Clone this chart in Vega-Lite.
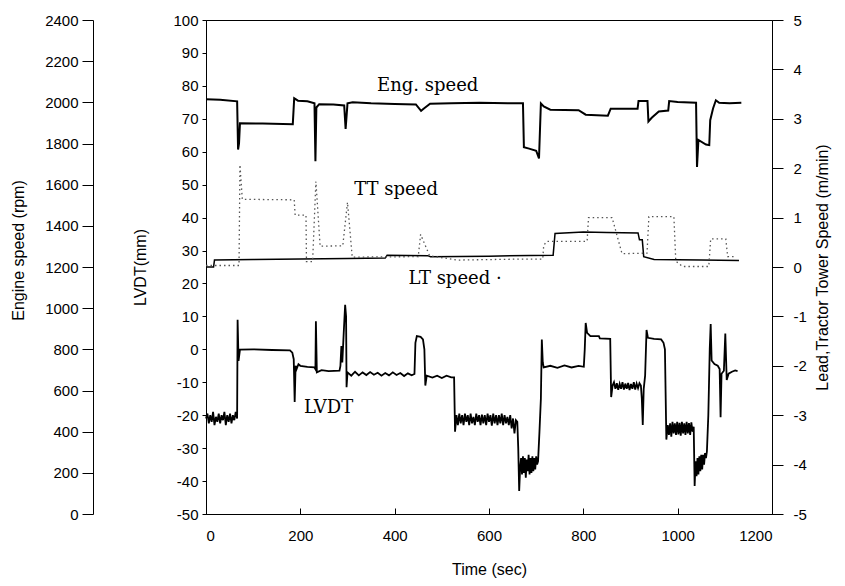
{
  "$schema": "https://vega.github.io/schema/vega-lite/v6.json",
  "width": 566,
  "height": 494,
  "autosize": "none",
  "padding": {"left": 206, "top": 20, "right": 73, "bottom": 72},
  "background": "white",
  "config": {
    "font": "Liberation Sans",
    "view": {"stroke": "black", "strokeWidth": 1},
    "axis": {
      "labelFont": "Liberation Sans", "labelFontSize": 15, "labelColor": "black",
      "titleFont": "Liberation Sans", "titleFontSize": 16, "titleFontWeight": "normal", "titleColor": "black",
      "domainColor": "black", "tickColor": "black", "grid": false,
      "labelExpr": "'' + datum.value"
    }
  },
  "datasets": {
    "lvdt": [
      {"t":0,"v":-21},{"t":3,"v":-19.5},{"t":6,"v":-22.5},{"t":9,"v":-20},{"t":12,"v":-22},{"t":15,"v":-19},{"t":18,"v":-23},{"t":21,"v":-20.5},{"t":24,"v":-22},{"t":27,"v":-19.5},{"t":30,"v":-22.5},{"t":33,"v":-20},{"t":36,"v":-21.5},{"t":39,"v":-19},{"t":42,"v":-23},{"t":45,"v":-20},{"t":48,"v":-22},{"t":51,"v":-19.5},{"t":54,"v":-22.5},{"t":57,"v":-20},{"t":60,"v":-21.5},{"t":63,"v":-19},{"t":66,"v":-21},
      {"t":67,"v":9},{"t":69,"v":-3.5},{"t":72,"v":-0.1},{"t":100,"v":0},{"t":140,"v":-0.2},{"t":178,"v":-0.3},{"t":183,"v":-1},{"t":186,"v":-3},{"t":188,"v":-16},{"t":190,"v":-5},{"t":192,"v":-6},{"t":196,"v":-4.5},{"t":200,"v":-5},{"t":215,"v":-5.3},{"t":230,"v":-5.5},{"t":232,"v":-6},{"t":233,"v":8.5},{"t":235,"v":-7},{"t":245,"v":-6.3},{"t":260,"v":-6.6},{"t":283,"v":-6.5},{"t":285,"v":-5},{"t":287,"v":1},{"t":289,"v":-4},{"t":292,"v":5},{"t":295,"v":13.5},{"t":297,"v":10},{"t":298,"v":-11.5},{"t":300,"v":-7},
      {"t":308,"v":-8},{"t":316,"v":-6.8},{"t":324,"v":-7.9},{"t":332,"v":-7},{"t":340,"v":-7.8},{"t":348,"v":-6.9},{"t":356,"v":-7.7},{"t":364,"v":-7.1},{"t":372,"v":-8},{"t":380,"v":-7.2},{"t":388,"v":-7.9},{"t":396,"v":-7},{"t":404,"v":-7.8},{"t":412,"v":-7.2},{"t":420,"v":-8.1},{"t":428,"v":-7.3},{"t":436,"v":-7.9},{"t":442,"v":-7.5},
      {"t":444,"v":2},{"t":447,"v":4},{"t":455,"v":3.8},{"t":460,"v":3},{"t":463,"v":0},{"t":465,"v":-11},{"t":468,"v":-8},{"t":480,"v":-8.6},{"t":490,"v":-8},{"t":500,"v":-8.7},{"t":510,"v":-8},{"t":520,"v":-8.5},{"t":526,"v":-8.5},
      {"t":528,"v":-25},{"t":531,"v":-20},{"t":534,"v":-23},{"t":537,"v":-19.5},{"t":540,"v":-22.5},{"t":543,"v":-20},{"t":546,"v":-23},{"t":549,"v":-19.5},{"t":552,"v":-22},{"t":555,"v":-20},{"t":558,"v":-23},{"t":561,"v":-19.5},{"t":564,"v":-22.5},{"t":567,"v":-20.5},{"t":570,"v":-23},{"t":573,"v":-19.5},{"t":576,"v":-22},{"t":579,"v":-20},{"t":582,"v":-23},{"t":585,"v":-19.8},{"t":588,"v":-22.5},{"t":591,"v":-20},{"t":594,"v":-23},{"t":597,"v":-19.5},{"t":600,"v":-22},{"t":603,"v":-20},{"t":606,"v":-23.2},{"t":609,"v":-19.5},{"t":612,"v":-22.5},{"t":615,"v":-20},{"t":618,"v":-23},{"t":621,"v":-20},{"t":624,"v":-22.5},{"t":627,"v":-19.5},{"t":630,"v":-23},{"t":633,"v":-20},{"t":636,"v":-22.5},{"t":639,"v":-20.5},{"t":642,"v":-23},{"t":645,"v":-20},{"t":648,"v":-24},{"t":651,"v":-21},{"t":654,"v":-25.5},{"t":657,"v":-21.5},{"t":660,"v":-22},
      {"t":662,"v":-30},{"t":664,"v":-43},{"t":666,"v":-36},{"t":668,"v":-33},{"t":670,"v":-38},{"t":672,"v":-32.5},{"t":674,"v":-37.5},{"t":676,"v":-33},{"t":678,"v":-39},{"t":680,"v":-33.5},{"t":682,"v":-37},{"t":684,"v":-32},{"t":686,"v":-38},{"t":688,"v":-33},{"t":690,"v":-37.5},{"t":692,"v":-32.5},{"t":694,"v":-37},{"t":696,"v":-33},{"t":698,"v":-36.5},{"t":700,"v":-32.5},{"t":702,"v":-35},
      {"t":704,"v":-34},{"t":707,"v":-25},{"t":710,"v":-15},{"t":712,"v":3},{"t":714,"v":-4},{"t":716,"v":-5.5},{"t":730,"v":-5},{"t":745,"v":-5.6},{"t":760,"v":-4.9},{"t":775,"v":-5.5},{"t":790,"v":-5},{"t":801,"v":-5.3},
      {"t":803,"v":0},{"t":805,"v":8},{"t":808,"v":5},{"t":815,"v":4},{"t":833,"v":4},{"t":835,"v":3.3},{"t":857,"v":3.2},
      {"t":859,"v":-14.5},{"t":862,"v":-11},{"t":865,"v":-10},{"t":868,"v":-12},{"t":871,"v":-10.3},{"t":874,"v":-12.3},{"t":877,"v":-10.5},{"t":880,"v":-12},{"t":883,"v":-10},{"t":886,"v":-12.2},{"t":889,"v":-10.4},{"t":892,"v":-12},{"t":895,"v":-10.2},{"t":898,"v":-12.4},{"t":901,"v":-10.5},{"t":904,"v":-12},{"t":907,"v":-10},{"t":910,"v":-12.2},{"t":913,"v":-10.4},{"t":916,"v":-11.8},{"t":919,"v":-10.3},{"t":922,"v":-11},
      {"t":924,"v":-15},{"t":926,"v":-23},{"t":928,"v":-12},{"t":931,"v":-8},{"t":934,"v":5.9},{"t":937,"v":3.5},{"t":950,"v":3.2},{"t":965,"v":3},{"t":970,"v":2},{"t":973,"v":0},
      {"t":976,"v":-27.4},{"t":979,"v":-23},{"t":981.5,"v":-26},{"t":984,"v":-22.5},{"t":986.5,"v":-26.5},{"t":989,"v":-22},{"t":991.5,"v":-25.5},{"t":994,"v":-22.5},{"t":996.5,"v":-26},{"t":999,"v":-22},{"t":1001.5,"v":-25.8},{"t":1004,"v":-22.3},{"t":1006.5,"v":-26.2},{"t":1009,"v":-22},{"t":1011.5,"v":-25.5},{"t":1014,"v":-22.5},{"t":1016.5,"v":-26},{"t":1019,"v":-22},{"t":1021.5,"v":-25.5},{"t":1024,"v":-22.4},{"t":1026.5,"v":-26},{"t":1029,"v":-22.2},{"t":1031.5,"v":-25},{"t":1034,"v":-23.5},
      {"t":1036,"v":-41.5},{"t":1038,"v":-34},{"t":1040,"v":-38.5},{"t":1042,"v":-33},{"t":1044,"v":-38},{"t":1046,"v":-32.5},{"t":1048,"v":-37},{"t":1050,"v":-32},{"t":1052,"v":-36.5},{"t":1054,"v":-32},{"t":1056,"v":-35},{"t":1058,"v":-31.5},{"t":1060,"v":-33},{"t":1062,"v":-31},
      {"t":1065,"v":-20},{"t":1068,"v":0},{"t":1070,"v":7.7},{"t":1072,"v":-3.4},{"t":1078,"v":-4.5},{"t":1085,"v":-5},{"t":1089,"v":-6},{"t":1091,"v":-20.6},{"t":1093,"v":-7.4},{"t":1098,"v":-6.5},{"t":1101,"v":4.8},{"t":1104,"v":-9.3},{"t":1108,"v":-7.4},{"t":1115,"v":-6.8},{"t":1122,"v":-6.4},{"t":1127,"v":-6.6}
    ],
    "eng": [
      {"t":0,"rpm":2015},{"t":30,"rpm":2012},{"t":66,"rpm":2005},{"t":68,"rpm":1771},{"t":70,"rpm":1800},{"t":72,"rpm":1898},{"t":120,"rpm":1897},{"t":184,"rpm":1894},{"t":187,"rpm":2020},{"t":195,"rpm":2008},{"t":215,"rpm":2005},{"t":230,"rpm":1995},{"t":232,"rpm":1714},{"t":234,"rpm":1975},{"t":240,"rpm":1991},{"t":270,"rpm":1990},{"t":293,"rpm":1985},{"t":296,"rpm":1871},{"t":300,"rpm":1995},{"t":311,"rpm":2000},{"t":350,"rpm":1995},{"t":400,"rpm":1992},{"t":445,"rpm":1990},{"t":456,"rpm":1959},{"t":462,"rpm":1970},{"t":475,"rpm":1993},{"t":520,"rpm":1995},{"t":580,"rpm":1998},{"t":640,"rpm":1996},{"t":672,"rpm":1996},{"t":674,"rpm":1782},{"t":685,"rpm":1775},{"t":700,"rpm":1765},{"t":706,"rpm":1727},{"t":710,"rpm":1995},{"t":716,"rpm":1980},{"t":730,"rpm":1964},{"t":790,"rpm":1962},{"t":805,"rpm":1940},{"t":852,"rpm":1935},{"t":858,"rpm":1969},{"t":915,"rpm":1969},{"t":917,"rpm":2007},{"t":936,"rpm":2007},{"t":938,"rpm":1907},{"t":945,"rpm":1925},{"t":960,"rpm":1956},{"t":980,"rpm":1960},{"t":982,"rpm":2006},{"t":1000,"rpm":2002},{"t":1039,"rpm":1998},{"t":1041,"rpm":1686},{"t":1044,"rpm":1817},{"t":1060,"rpm":1795},{"t":1067,"rpm":1792},{"t":1069,"rpm":1913},{"t":1075,"rpm":1970},{"t":1081,"rpm":2010},{"t":1088,"rpm":1998},{"t":1110,"rpm":1995},{"t":1135,"rpm":1998}
    ],
    "tt": [
      {"t":0,"s":0.03},{"t":70,"s":0.03},{"t":72,"s":2.07},{"t":77,"s":1.37},{"t":187,"s":1.36},{"t":189,"s":1.05},{"t":212,"s":1.05},{"t":213,"s":0.11},{"t":226,"s":0.11},{"t":233,"s":1.73},{"t":242,"s":0.42},{"t":290,"s":0.43},{"t":300,"s":1.31},{"t":310,"s":0.2},{"t":450,"s":0.21},{"t":455,"s":0.66},{"t":474,"s":0.23},{"t":532,"s":0.14},{"t":666,"s":0.16},{"t":714,"s":0.16},{"t":716,"s":0.44},{"t":723,"s":0.52},{"t":808,"s":0.52},{"t":811,"s":1.0},{"t":861,"s":1.0},{"t":882,"s":0.27},{"t":935,"s":0.28},{"t":939,"s":1.02},{"t":992,"s":1.02},{"t":996,"s":0.12},{"t":1010,"s":0.01},{"t":1066,"s":0.01},{"t":1070,"s":0.57},{"t":1102,"s":0.57},{"t":1106,"s":0.21},{"t":1120,"s":0.21}
    ],
    "lt": [
      {"t":0,"s":0.0},{"t":16,"s":0.0},{"t":18,"s":0.14},{"t":100,"s":0.15},{"t":200,"s":0.16},{"t":300,"s":0.17},{"t":380,"s":0.18},{"t":384,"s":0.24},{"t":470,"s":0.23},{"t":476,"s":0.21},{"t":600,"s":0.22},{"t":736,"s":0.24},{"t":740,"s":0.68},{"t":800,"s":0.71},{"t":850,"s":0.7},{"t":916,"s":0.69},{"t":919,"s":0.55},{"t":925,"s":0.55},{"t":928,"s":0.21},{"t":950,"s":0.15},{"t":1050,"s":0.14},{"t":1130,"s":0.13}
    ],
    "labels": [
      {"t":470,"v":80,"label":"Eng.  speed"},
      {"t":403,"v":48.5,"label":"TT  speed"},
      {"t":528,"v":21.4,"label":"LT  speed  ·"},
      {"t":260,"v":-17.9,"label":"LVDT"}
    ]
  },
  "encoding": {
    "x": {
      "field": "t", "type": "quantitative",
      "scale": {"domain": [0, 1200], "nice": false, "zero": false},
      "axis": {"values": [0, 200, 400, 600, 800, 1000, 1200], "title": "Time (sec)", "tickSize": -6, "labelPadding": 20, "titlePadding": 18, "domain": true}
    }
  },
  "layer": [
    {
      "data": {"name": "lvdt"},
      "mark": {"type": "line", "color": "black", "strokeWidth": 1.8},
      "encoding": {
        "y": {"field": "v", "type": "quantitative", "scale": {"domain": [-50, 100], "nice": false, "zero": false},
          "axis": {"orient": "left", "values": [-50,-40,-30,-20,-10,0,10,20,30,40,50,60,70,80,90,100], "title": "LVDT(mm)", "tickSize": 4, "labelPadding": 4, "titlePadding": 24}}
      }
    },
    {
      "data": {"name": "eng"},
      "mark": {"type": "line", "color": "black", "strokeWidth": 2},
      "encoding": {
        "y": {"field": "rpm", "type": "quantitative", "scale": {"domain": [0, 2400], "nice": false, "zero": false},
          "axis": {"orient": "left", "offset": 113, "values": [0,200,400,600,800,1000,1200,1400,1600,1800,2000,2200,2400], "title": "Engine speed (rpm)", "titleY": 230, "tickSize": 11, "labelPadding": 4, "titlePadding": 18}}
      }
    },
    {
      "data": {"name": "lt"},
      "mark": {"type": "line", "color": "black", "strokeWidth": 1.5},
      "encoding": {
        "y": {"field": "s", "type": "quantitative", "scale": {"domain": [-5, 5], "nice": false, "zero": false},
          "axis": {"orient": "right", "values": [-5,-4,-3,-2,-1,0,1,2,3,4,5], "title": "Lead,Tractor Tower Speed (m/min)", "titleAngle": -90, "tickSize": 11, "labelPadding": 10, "titlePadding": 24}}
      }
    },
    {
      "data": {"name": "tt"},
      "mark": {"type": "line", "color": "#555555", "strokeWidth": 1.3, "strokeDash": [1.5, 3]},
      "encoding": {
        "y": {"field": "s", "type": "quantitative", "scale": {"domain": [-5, 5], "nice": false, "zero": false}, "axis": null}
      }
    },
    {
      "data": {"name": "labels"},
      "mark": {"type": "text", "font": "DejaVu Serif", "fontSize": 18, "color": "black", "align": "center", "baseline": "middle"},
      "encoding": {
        "y": {"field": "v", "type": "quantitative", "scale": {"domain": [-50, 100], "nice": false, "zero": false}, "axis": null},
        "text": {"field": "label"}
      }
    }
  ],
  "resolve": {"scale": {"y": "independent"}}
}
